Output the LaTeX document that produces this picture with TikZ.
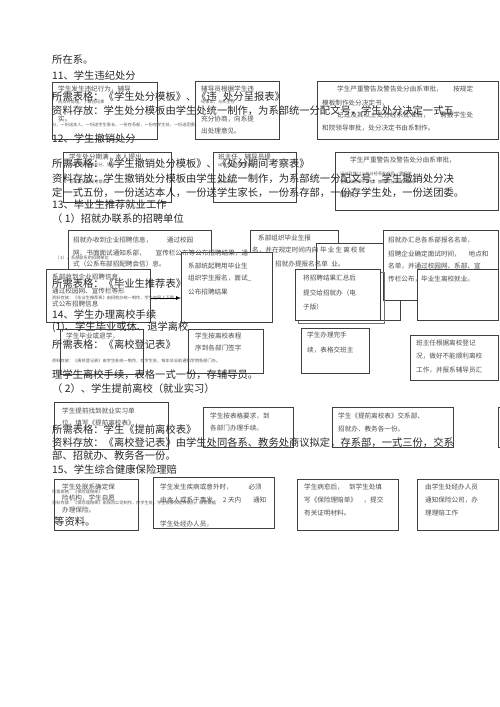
\documentclass[tikz,border=0pt]{standalone}
\usepackage{fontspec}
\setmainfont{Noto Sans CJK SC}
\begin{document}
\begin{tikzpicture}[x=1pt,y=-1pt,
  bx/.style={draw=black!75,line width=0.7pt,anchor=north west,inner sep=0pt},
  wbx/.style={bx,fill=white},
  ln/.style={draw=black!75,line width=0.7pt},
  big/.style={anchor=base west,inner sep=0pt,font=\fontsize{10.3}{12}\selectfont,text=black!85},
  sm/.style={anchor=base west,inner sep=0pt,font=\fontsize{6.6}{8}\selectfont,text=black!70},
  tn/.style={anchor=base west,inner sep=0pt,font=\fontsize{4.2}{5}\selectfont,text=black!65}]
\useasboundingbox (0,0) rectangle (500,707);
\newcommand{\bxx}[6][bx]{\node[#1,minimum width=#4-#2,minimum height=#5-#3] (#6) at (#2,#3) {};}
% ---- 11
\node[big] (h0) at (52,63) {所在系。};
\node[big] (h11) at (52,79) {11、学生违纪处分};
\bxx{52}{82}{157}{139}{b11a}
\bxx{195}{81}{279}{139}{b11b}
\bxx{317}{81}{498}{139}{b11c}
\node[sm] (a1) at (58,91) {学生发生违纪行为，辅导};
\node[tn] (a2) at (58,103) {员及时处理，了解违纪事};
\node[tn] (a3) at (201,103) {纪事实，与系主任};
\node[sm] (a4) at (201,91) {辅导员根据学生违};
\node[sm] (a5) at (201,121) {充分协商，向系提};
\node[sm] (a6) at (201,133) {出处理意见。};
\node[sm] (c1) at (337,91) {学生严重警告及警告处分由系审批，\hspace{1.6em}按规定};
\node[sm] (c2) at (322,105) {模板制作处分决定书，};
\node[sm] (c3) at (337,117) {记过及其以上处分经系批准后，\hspace{1.6em}需报学生处};
\node[sm] (c4) at (322,130) {和院领导审批，处分决定书由系制作。};
\node[big] (l1) at (52,100) {所需表格：《学生处分模板》、《违\hspace{0.6em}处分呈报表》};
\node[big] (l2) at (52,114) {资料存放：学生处分模板由学生处统一制作，为系部统一分配文号，学生处分决定一式五};
\node[sm] (l3) at (58,121) {实。};
\node[tn] (l4) at (52,126) {分，一份送本人，一份送学生家长，一份存系部，一份存学生处，一份送团委。};
% ---- 12
\node[big] (h12) at (52,142) {12、学生撤销处分};
\bxx{63}{152}{171}{202}{b12a}
\bxx{213}{152}{296}{202}{b12b}
\bxx{335}{152}{498}{210}{b12c}
\node[sm] (d1) at (69,159) {学生处分期满，本人提出};
\node[tn] (d2) at (69,166) {书面申请撤销处分，辅导};
\node[tn] (d3) at (69,183) {写出处分期间考察表，};
\node[sm] (e1) at (218,159) {班主任、辅导员提};
\node[tn] (e2) at (218,166) {出学生处分撤销意见};
\node[tn] (e3) at (218,183) {报系审批};
\node[sm] (f1) at (350,162) {学生严重警告及警告处分由系审批，};
\node[tn] (f2) at (340,175) {记过及其以上处分经系批准后，需报学};
\node[tn] (f3) at (340,183) {生处和院领导审批，撤销处分决定书由系};
\node[sm] (f4) at (340,197) {制作。};
\node[big] (m1) at (52,167) {所需表格：《学生撤销处分模板》、《处分期间考察表》};
\node[big] (m2) at (52,182) {资料存放：学生撤销处分模板由学生处统一制作，为系部统一分配文号，学生撤销处分决};
\node[big] (m3) at (52,196) {定一式五份，一份送达本人，一份送学生家长，一份系存部，一份存学生处，一份送团委。};
% ---- 13
\node[big] (h13) at (52,208) {13、毕业生推荐就业工作};
\node[big] (h13a) at (52,222) {（ 1）招就办联系的招聘单位};
% box G: partly hidden
\coordinate (g0) at (68,269);
\coordinate (g00) at (211,252);
\draw[ln] (g0) |- (211,230) -- (g00);
% box J
\coordinate (j0) at (250,252);
\draw[ln] (j0) |- (338,230) -- (338,243);
% box K, then M on top of it
\bxx{316}{243}{400}{320}{k}
\bxx[wbx]{383}{230}{498}{300}{mm}
\bxx[wbx]{181}{252}{272}{322}{hh}
\bxx[wbx]{46}{269}{150}{322}{ii}
\draw[ln,draw=black!55] (380,272) -- (384,272) -- (384,323) -- (298,323) -- (298,320);
\bxx[wbx]{295}{269}{380}{320}{ll}
\bxx[wbx]{417}{269}{498}{320}{nn}
\node[sm] (g1) at (73,242) {招就办收到企业招聘信息，\hspace{2.2em}通过校园};
\node[sm] (g2) at (73,255) {网、书面面试通知系部，\hspace{1.5em}宣传栏公布等公布招聘结果，通};
\node[tn] (g4) at (55,259) {（ 2）、系部联系的招聘单位};
\node[sm] (g5) at (73,266) {式（公系布部招配聘会信）息。};
\node[sm] (j1) at (258,240) {系部组织毕业生报};
\node[sm] (j2) at (252,252) {名，并在规定时间内向};
\node[sm] (k1) at (320,252) {毕\,业\,生\,离\,校\,就};
\node[sm] (j3) at (275,266) {招就办提报名名单\hspace{0.5em}业。};
\node[sm] (h1) at (188,268) {系部统起聘用毕业生};
\node[sm] (h2) at (188,280) {组织学生报名，面试\_};
\node[sm] (h3) at (188,294) {公布招聘结果};
\node[sm] (i1) at (52,279) {系部收到企业招聘信息，};
\node[big] (i2) at (52,287) {所需表格：《毕业生推荐表》};
\node[sm] (i3) at (52,293) {通过校园网、宣传栏等形};
\node[tn] (i4) at (52,299) {资料存放：《毕业生推荐表》由招就办统一制作，学生在网上下载。};
\node[sm] (i5) at (52,306) {式公布招聘信息};
\node[sm] (l5) at (303,280) {将招聘结果汇总后};
\node[sm] (l6) at (303,295) {提交给招就办（电};
\node[sm] (l7) at (303,309) {子版）};
\node[sm] (n1) at (388,242) {招就办汇总各系部报名名单，};
\node[sm] (n2) at (388,256) {招聘企业确定面试时间，\hspace{1.2em}地点和};
\node[sm] (n3) at (388,268) {名单，并通过校园网、系部、宣};
\node[sm] (n4) at (388,281) {传栏公布，毕业生离校就业。};
\draw[-latex,line width=0.7pt] (ii.east |- 0,298) -- (hh.west |- 0,298);
% ---- 14
\node[big] (h14) at (52,318) {14、学生办理离校手续};
\node[big] (h141) at (52,330) {(1)、学生毕业或休、退学离校};
\bxx{60}{329}{143}{374}{o}
\bxx{188}{329}{263}{373}{p}
\bxx{301}{328}{369}{373}{q}
\bxx{410}{335}{498}{380}{r}
\node[sm] (o1) at (66,338) {学生毕业或退学，};
\node[big] (o2) at (52,348) {所需表格：《离校登记表》};
\node[tn] (o3) at (52,362) {资料存放：《离校登记表》由学生处统一制作，存学生处，每年毕业前通知学院各部门办。};
\node[big] (o4) at (52,378) {理学生离校手续，表格一式一份，存辅导员。};
\node[big] (h142) at (52,392) {（ 2）、学生提前离校（就业实习）};
\node[sm] (p1) at (195,338) {学生按离校表程};
\node[sm] (p2) at (195,350) {序到各部门签字};
\node[sm] (q1) at (307,337) {学生办理完手};
\node[sm] (q2) at (307,352) {续，表格交班主};
\node[sm] (r1) at (416,345) {班主任根据离校登记};
\node[sm] (r2) at (416,358) {况，做好不能顺利离校};
\node[sm] (r3) at (416,372) {工作，并报系辅导员汇};
\bxx{54}{402}{168}{449}{s}
\bxx{203}{407}{293}{447}{t}
\bxx{332}{407}{453}{447}{u}
\coordinate (v0) at (500,407);
\coordinate (v1) at (500,447);
\draw[ln] (v0) -- (498,407) -- (498,447) -- (v1);
\node[sm] (s1) at (62,413) {学生提前找到就业实习单};
\node[sm] (s2) at (62,425) {位，填写《提前离校表》，};
\node[big] (s3) at (52,433) {所需表格：学生《提前离校表》};
\node[big] (s4) at (52,446) {资料存放：《离校登记表》由学生处同各系、教务处商议拟定，存系部，一式三份，交系};
\node[big] (s5) at (52,459) {部、招就办、教务各一份。};
\node[sm] (t1) at (210,418) {学生按表格要求，到};
\node[sm] (t2) at (210,430) {各部门办理手续。};
\node[sm] (u1) at (338,418) {学生《提前离校表》交系部、};
\node[sm] (u2) at (338,431) {招就办、教务各一份。};
% ---- 15
\node[big] (h15) at (52,473) {15、学生综合健康保险理赔};
\bxx{54}{479}{138}{530}{w}
\bxx{153}{477}{274}{528}{x}
\bxx{297}{479}{398}{530}{y}
\bxx{417}{479}{498}{530}{z}
\node[sm] (w1) at (62,489) {学生处联系确定保};
\node[tn] (w2) at (52,493) {所需表格：《保险理赔单》};
\node[sm] (w3) at (62,500) {险机构，学生自愿};
\node[tn] (w4) at (52,504) {资料存放：《保险理赔单》由保险公司制作，存学生处，学生按要求提供病历、收费票据};
\node[sm] (w5) at (62,512) {办理保险。};
\node[big] (w6) at (54,525) {等资料。};
\node[sm] (x1) at (160,489) {学生发生疾病或意外时，\hspace{2.4em}必须};
\node[sm] (x2) at (160,502) {由本人或系于事发\hspace{1.5em}2\ 天内\hspace{1.8em}通知};
\node[sm] (x3) at (160,526) {学生处经办人员，};
\node[sm] (y1) at (304,489) {学生病愈后，\hspace{0.8em}到学生处填};
\node[sm] (y2) at (304,502) {写《保险理赔单》\hspace{1em}，提交};
\node[sm] (y3) at (304,515) {有关证明材料。};
\node[sm] (z1) at (425,489) {由学生处经办人员};
\node[sm] (z2) at (425,502) {通知保险公司，办};
\node[sm] (z3) at (425,515) {理理赔工作};
\end{tikzpicture}
\end{document}
